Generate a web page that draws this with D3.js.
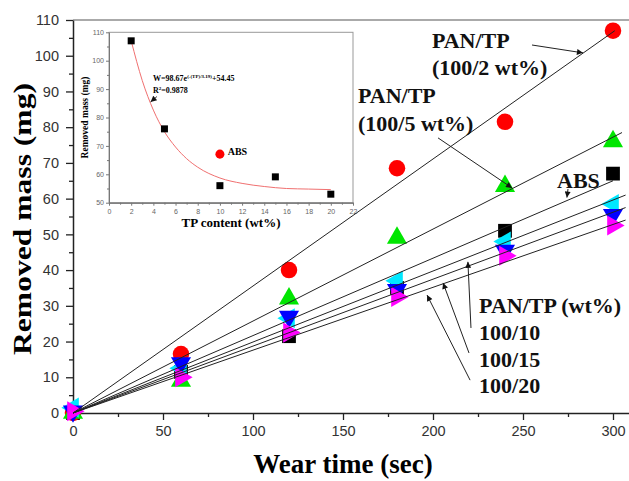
<!DOCTYPE html>
<html lang="en">
<head>
    <meta charset="UTF-8">
    <script src="https://d3js.org/d3.v7.min.js"></script>
    <style>
        body { margin: 0; background: white; }
        svg { display: block; }
        .tick text { font-family: "Liberation Sans", Arial, sans-serif; }
        .serif { font-family: "Liberation Serif", "Times New Roman", serif; font-weight: bold; }
    </style>
</head>
<body>
<div id="chart"></div>
<script>
// main chart data
const times = [0, 60, 120, 180, 240, 300];
const seriesNames = ["ABS", "PAN/TP 100/2", "PAN/TP 100/5", "PAN/TP 100/10", "PAN/TP 100/15", "PAN/TP 100/20"];
const massABS    = [0, 11.5, 21.5, 35, 51, 67];
const mass100_2  = [0, 16.5, 40, 68.5, 81.5, 107];
const mass100_5  = [0, 9, 32, 49, 63.5, 76];
const mass100_10 = [1.5, 12.5, 26.5, 37, 48, 58.5];
const mass100_15 = [0.5, 14, 27, 34.5, 45.5, 55.5];
const mass100_20 = [0.5, 10, 22.5, 32.5, 44, 52.5];
// linear fit lines: end time and end mass (start at origin)
const fitEndTime = [300, 301, 305, 307, 307, 307];
const fitEndMass = [65, 107, 78.5, 61, 57.5, 54];

const xTicks = [0, 50, 100, 150, 200, 250, 300];
const yTicks = [0, 10, 20, 30, 40, 50, 60, 70, 80, 90, 100, 110];

// inset data
const tpContent = [2, 5, 10, 15, 20];
const tpMass = [107, 76, 56, 59.1, 53];
const absTP = 10, absMass = 67.1;
// fit curve
const curveTP   = [2, 3, 4, 5, 6, 7, 8, 10, 12, 14, 16, 18, 20];
const curveMass = [107, 93, 82.6, 75, 69.6, 65.5, 62.5, 58.7, 56.8, 55.7, 55, 54.8, 54.6];
const insetXTicks = [0, 2, 4, 6, 8, 10, 12, 14, 16, 18, 20, 22];
const insetYTicks = [50, 60, 70, 80, 90, 100, 110];

const width = 629, height = 481;

const svg = d3.select("#chart").append("svg")
    .attr("width", width)
    .attr("height", height);

const defs = svg.append("defs");
defs.append("marker")
    .attr("id", "arrow")
    .attr("viewBox", "0 0 10 10")
    .attr("refX", 10).attr("refY", 5)
    .attr("markerWidth", 8).attr("markerHeight", 6)
    .attr("markerUnits", "userSpaceOnUse")
    .attr("orient", "auto")
    .append("path").attr("d", "M0,0L10,5L0,10z").attr("fill", "#111");

const x = d3.scaleLinear().domain([0, 310]).range([73, 631]);
const y = d3.scaleLinear().domain([0, 110]).range([413, 20]);

// frame top
svg.append("line")
    .attr("x1", x(0)).attr("x2", width)
    .attr("y1", y(110)).attr("y2", y(110))
    .attr("stroke", "#aaa").attr("stroke-width", 2);

// inset -------------------------------------------------------------
const xi = d3.scaleLinear().domain([0, 22]).range([109, 353]);
const yi = d3.scaleLinear().domain([50, 110]).range([202.7, 32.3]);

const inset = svg.append("g");
inset.append("rect")
    .attr("x", xi(0)).attr("y", yi(110))
    .attr("width", xi(22) - xi(0)).attr("height", yi(50) - yi(110))
    .attr("fill", "white").attr("stroke", "#999").attr("stroke-width", 1);

inset.append("g")
    .attr("transform", `translate(0,${yi(50)})`)
    .call(d3.axisBottom(xi).tickValues(insetXTicks).tickSize(3).tickPadding(3).tickSizeOuter(0));
inset.append("g")
    .attr("transform", `translate(0,${yi(50)})`)
    .call(d3.axisBottom(xi).tickValues(d3.range(1, 22, 2)).tickSize(2).tickFormat("").tickSizeOuter(0));
inset.append("g")
    .attr("transform", `translate(${xi(0)},0)`)
    .call(d3.axisLeft(yi).tickValues(insetYTicks).tickSize(3).tickPadding(2).tickSizeOuter(0));
inset.append("g")
    .attr("transform", `translate(${xi(0)},0)`)
    .call(d3.axisLeft(yi).tickValues(d3.range(55, 110, 10)).tickSize(2).tickFormat("").tickSizeOuter(0));
inset.selectAll(".domain, .tick line").attr("stroke", "#777");
inset.selectAll(".tick text").attr("font-size", 7).attr("fill", "#666");

inset.append("path")
    .datum(curveTP.map((t, i) => [t, curveMass[i]]))
    .attr("fill", "none")
    .attr("stroke", "#f07070")
    .attr("stroke-width", 1)
    .attr("d", d3.line().x(d => xi(d[0])).y(d => yi(d[1])).curve(d3.curveMonotoneX));

inset.selectAll(".sq")
    .data(tpContent.map((t, i) => [t, tpMass[i]]))
    .enter().append("path")
    .attr("transform", d => `translate(${xi(d[0])},${yi(d[1])})`)
    .attr("d", d3.symbol(d3.symbolSquare, 49))
    .attr("fill", "black");
inset.append("path")
    .attr("transform", `translate(${xi(absTP)},${yi(absMass)})`)
    .attr("d", d3.symbol(d3.symbolCircle, 64))
    .attr("fill", "#ff0000");

inset.append("text").attr("class", "serif")
    .attr("x", xi(10.7)).attr("y", yi(66.8))
    .attr("font-size", 10).text("ABS");

const eq = inset.append("text").attr("class", "serif")
    .attr("x", xi(3.97)).attr("y", yi(92.9))
    .attr("font-size", 8);
eq.append("tspan").text("W=98.67e");
eq.append("tspan").attr("dy", -3).attr("font-size", 5).text("(-(TP)/3.19)");
eq.append("tspan").attr("dy", 3).text("+54.45");
const r2 = inset.append("text").attr("class", "serif")
    .attr("x", xi(3.97)).attr("y", yi(88.7))
    .attr("font-size", 8);
r2.append("tspan").text("R");
r2.append("tspan").attr("dy", -3).attr("font-size", 5).text("2");
r2.append("tspan").attr("dy", 3).text("=0.9878");
inset.append("line")
    .attr("x1", xi(4.33)).attr("y1", yi(87.4))
    .attr("x2", xi(3.75)).attr("y2", yi(85.5))
    .attr("stroke", "#111").attr("stroke-width", 0.8)
    .attr("marker-end", "url(#arrow)");

inset.append("text").attr("class", "serif")
    .attr("x", (xi(0) + xi(22)) / 2).attr("y", 227)
    .attr("text-anchor", "middle").attr("font-size", 13)
    .text("TP content (wt%)");
inset.append("text").attr("class", "serif")
    .attr("transform", `translate(88,${(yi(50) + yi(110)) / 2}) rotate(-90)`)
    .attr("text-anchor", "middle").attr("font-size", 9.5)
    .text("Removed mass (mg)");

// main axes ----------------------------------------------------------
const ax = svg.append("g")
    .attr("transform", `translate(0,${y(0)})`)
    .call(d3.axisBottom(x).tickValues(xTicks).tickSize(7).tickPadding(6).tickSizeOuter(0));
svg.append("g")
    .attr("transform", `translate(0,${y(0)})`)
    .call(d3.axisBottom(x).tickValues(d3.range(25, 310, 50)).tickSize(4).tickFormat("").tickSizeOuter(0))
    .select(".domain").remove();
const ay = svg.append("g")
    .attr("transform", `translate(${x(0)},0)`)
    .call(d3.axisLeft(y).tickValues(yTicks).tickSize(7).tickPadding(7).tickSizeOuter(0));
svg.append("g")
    .attr("transform", `translate(${x(0)},0)`)
    .call(d3.axisLeft(y).tickValues(d3.range(5, 110, 10)).tickSize(4).tickFormat("").tickSizeOuter(0))
    .select(".domain").remove();
[ax, ay].forEach(g => {
    g.selectAll(".tick text").attr("font-size", 14.5).attr("fill", "#333");
    g.select(".domain").attr("stroke", "#222").attr("stroke-width", 1.5);
});
svg.selectAll(".tick line").attr("stroke", "#222").attr("stroke-width", 1.3);
inset.selectAll(".tick line").attr("stroke", "#777").attr("stroke-width", 1);

svg.append("text").attr("class", "serif")
    .attr("transform", `translate(31,219) rotate(-90)`)
    .attr("text-anchor", "middle").attr("font-size", 26)
    .attr("textLength", 272).attr("lengthAdjust", "spacingAndGlyphs")
    .text("Removed mass (mg)");
svg.append("text").attr("class", "serif")
    .attr("x", 343).attr("y", 473)
    .attr("text-anchor", "middle").attr("font-size", 27)
    .text("Wear time (sec)");

// markers ------------------------------------------------------------
const allMass = [massABS, mass100_2, mass100_5, mass100_10, mass100_15, mass100_20];
const markerStyle = [
    { type: d3.symbolSquare, size: 190, rot: 0, color: "#000000" },
    { type: d3.symbolCircle, size: 215, rot: 0, color: "#ff0000" },
    { type: d3.symbolTriangle, size: 175, rot: 0, color: "#00e600" },
    { type: d3.symbolTriangle, size: 175, rot: -90, color: "#00e8ff" },
    { type: d3.symbolTriangle, size: 175, rot: 180, color: "#0000ff" },
    { type: d3.symbolTriangle, size: 175, rot: 90, color: "#ff00ff" }
];

allMass.forEach((vals, s) => {
    const st = markerStyle[s];
    svg.append("g").selectAll("path")
        .data(times.map((t, i) => [t, vals[i]]))
        .enter().append("path")
        .attr("transform", d => `translate(${x(d[0])},${y(d[1])}) rotate(${st.rot})`)
        .attr("d", d3.symbol(st.type, st.size))
        .attr("fill", st.color);
});

// fit lines on top of markers
allMass.forEach((vals, s) => {
    svg.append("line")
        .attr("x1", x(0)).attr("y1", y(0))
        .attr("x2", x(fitEndTime[s])).attr("y2", y(fitEndMass[s]))
        .attr("stroke", "#222").attr("stroke-width", 1);
});

// annotations (data units) ------------------------------------------
const labels = [
    { t: 199.4, v: 102.2, text: "PAN/TP" },
    { t: 199.4, v: 94.6, text: "(100/2 wt%)" },
    { t: 158.3, v: 86.8, text: "PAN/TP" },
    { t: 158.3, v: 78.9, text: "(100/5 wt%)" },
    { t: 268.9, v: 63, text: "ABS" },
    { t: 225.6, v: 28, text: "PAN/TP (wt%)" },
    { t: 225.6, v: 20.4, text: "100/10" },
    { t: 225.6, v: 12.9, text: "100/15" },
    { t: 225.6, v: 5.6, text: "100/20" }
];
svg.selectAll(".lbl")
    .data(labels)
    .enter().append("text")
    .attr("class", "serif lbl")
    .attr("x", d => x(d.t)).attr("y", d => y(d.v))
    .attr("font-size", 22).attr("fill", "#111")
    .text(d => d.text);

const arrows = [
    [255, 103, 283.3, 100.8],
    [202.8, 77, 243.9, 63],
    [275, 62.7, 274.4, 60.3],
    [221.1, 23.8, 219.4, 42.3],
    [220, 16.8, 205.6, 36.4],
    [220.6, 9.2, 196.7, 33]
];
svg.selectAll(".arr")
    .data(arrows)
    .enter().append("line")
    .attr("x1", d => x(d[0])).attr("y1", d => y(d[1]))
    .attr("x2", d => x(d[2])).attr("y2", d => y(d[3]))
    .attr("stroke", "#222").attr("stroke-width", 1)
    .attr("marker-end", "url(#arrow)");
</script>
</body>
</html>
